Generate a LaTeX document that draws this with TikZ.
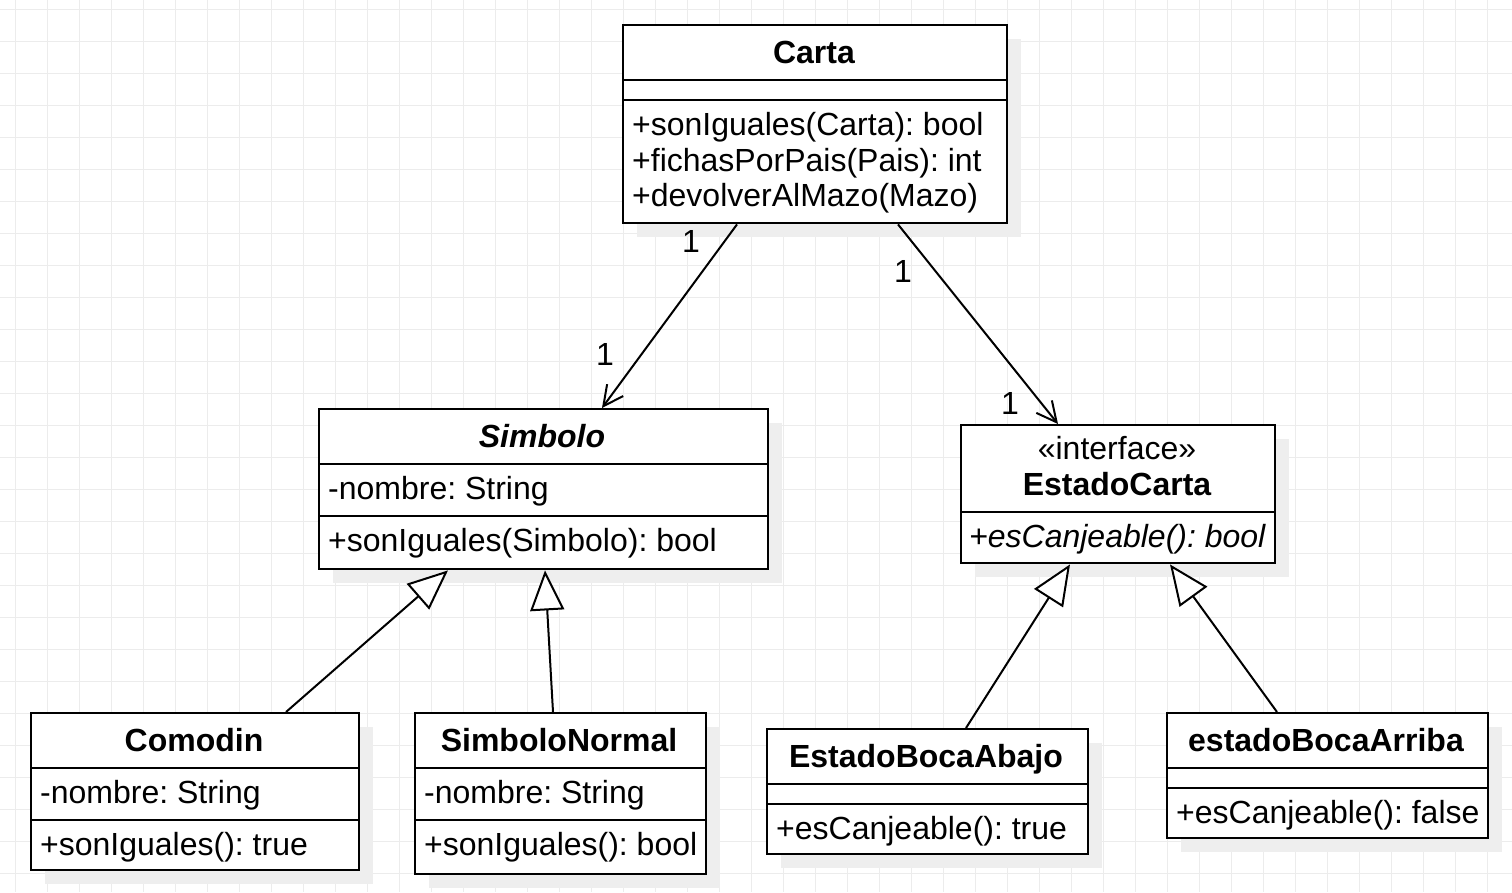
\documentclass[tikz,border=0pt]{standalone}
\usepackage{fontspec}
\setmainfont{Liberation Sans}
\usetikzlibrary{arrows.meta,shadows,calc}
\definecolor{gridc}{RGB}{236,236,236}
\definecolor{shadowc}{RGB}{238,238,238}
\frenchspacing
\tikzset{
  cls/.style={draw, line width=2.4pt, fill=white, anchor=north west, inner sep=0pt,
    general shadow={fill=shadowc, shadow xshift=14pt, shadow yshift=-14pt}},
  sep/.style={line width=2.4pt},
  txt/.style={inner sep=0pt, font=\fontsize{32}{38}\selectfont, text height=27pt, text depth=3pt},
  mem/.style={txt, anchor=west},
  ttl/.style={txt, font=\fontsize{32}{38}\selectfont\bfseries},
  mult/.style={txt},
  assoc/.style={line width=2pt, -{Straight Barb[length=20pt,width=20pt]}},
  gen/.style={line width=2pt, -{Triangle[length=40pt,width=34pt,fill=white]}},
}
\begin{document}
\begin{tikzpicture}[x=1pt,y=-1pt]
\useasboundingbox (0,0) rectangle (1512,892);
\fill[white] (0,0) rectangle (1512,892);
\foreach \x in {15,47,...,1511} \draw[gridc, line width=1pt] (\x,0) -- (\x,892);
\foreach \y in {9,41,...,891} \draw[gridc, line width=1pt] (0,\y) -- (1512,\y);

% Carta
\node[cls, minimum width=384pt, minimum height=198pt] (carta) at (622,24) {};
\draw[sep] ([yshift=-56pt]carta.north west) -- ([yshift=-56pt]carta.north east);
\draw[sep] ([yshift=-76pt]carta.north west) -- ([yshift=-76pt]carta.north east);
\node[ttl] (cartaT) at (814,51) {Carta};
\node[mem] (cartaM1) at (632,123) {+sonIguales(Carta): bool};
\node[mem] (cartaM2) at (632,159) {+fichasPorPais(Pais): int};
\node[mem] (cartaM3) at (632,194) {+devolverAlMazo(Mazo)};

% Simbolo
\node[cls, minimum width=449pt, minimum height=160pt] (simbolo) at (318,408) {};
\draw[sep] ([yshift=-56pt]simbolo.north west) -- ([yshift=-56pt]simbolo.north east);
\draw[sep] ([yshift=-108pt]simbolo.north west) -- ([yshift=-108pt]simbolo.north east);
\node[ttl, font=\fontsize{32}{38}\selectfont\bfseries\itshape] (simboloT) at (542,435) {Simbolo};
\node[mem] (simboloA) at (328,487) {-nombre: String};
\node[mem] (simboloM) at (328,539) {+sonIguales(Simbolo): bool};

% EstadoCarta
\node[cls, minimum width=314pt, minimum height=138pt] (estado) at (960,424) {};
\draw[sep] ([yshift=-88pt]estado.north west) -- ([yshift=-88pt]estado.north east);
\node[txt] (estadoS) at (1117,447) {«interface»};
\node[ttl] (estadoT) at (1117,483) {EstadoCarta};
\node[mem, font=\fontsize{32}{38}\selectfont\itshape] (estadoM) at (969,535) {+esCanjeable(): bool};

% Comodin
\node[cls, minimum width=328pt, minimum height=157pt] (comodin) at (30,712) {};
\draw[sep] ([yshift=-56pt]comodin.north west) -- ([yshift=-56pt]comodin.north east);
\draw[sep] ([yshift=-108pt]comodin.north west) -- ([yshift=-108pt]comodin.north east);
\node[ttl] (comodinT) at (194,739) {Comodin};
\node[mem] (comodinA) at (40,791) {-nombre: String};
\node[mem] (comodinM) at (40,843) {+sonIguales(): true};

% SimboloNormal
\node[cls, minimum width=291pt, minimum height=161pt] (normal) at (414,712) {};
\draw[sep] ([yshift=-56pt]normal.north west) -- ([yshift=-56pt]normal.north east);
\draw[sep] ([yshift=-108pt]normal.north west) -- ([yshift=-108pt]normal.north east);
\node[ttl] (normalT) at (559,739) {SimboloNormal};
\node[mem] (normalA) at (424,791) {-nombre: String};
\node[mem] (normalM) at (424,843) {+sonIguales(): bool};

% EstadoBocaAbajo
\node[cls, minimum width=321pt, minimum height=125pt] (abajo) at (766,728) {};
\draw[sep] ([yshift=-56pt]abajo.north west) -- ([yshift=-56pt]abajo.north east);
\draw[sep] ([yshift=-76pt]abajo.north west) -- ([yshift=-76pt]abajo.north east);
\node[ttl] (abajoT) at (926,755) {EstadoBocaAbajo};
\node[mem] (abajoM) at (776,827) {+esCanjeable(): true};

% estadoBocaArriba
\node[cls, minimum width=321pt, minimum height=125pt] (arriba) at (1166,712) {};
\draw[sep] ([yshift=-56pt]arriba.north west) -- ([yshift=-56pt]arriba.north east);
\draw[sep] ([yshift=-76pt]arriba.north west) -- ([yshift=-76pt]arriba.north east);
\node[ttl] (arribaT) at (1326,739) {estadoBocaArriba};
\node[mem] (arribaM) at (1176,811) {+esCanjeable(): false};

% associations
\draw[assoc] ([xshift=115pt]carta.south west) -- ([xshift=284pt]simbolo.north west);
\draw[assoc] ([xshift=276pt]carta.south west) -- ([xshift=98pt]estado.north west);
\node[mult] (m1) at (691,240) {1};
\node[mult] (m2) at (605,353) {1};
\node[mult] (m3) at (903,270) {1};
\node[mult] (m4) at (1010,402) {1};

% generalizations
\draw[gen] ([xshift=256pt]comodin.north west) -- ([xshift=130pt]simbolo.south west);
\draw[gen] ([xshift=139pt]normal.north west) -- ([xshift=227pt]simbolo.south west);
\draw[gen] ([xshift=200pt]abajo.north west) -- ([xshift=110pt]estado.south west);
\draw[gen] ([xshift=111pt]arriba.north west) -- ([xshift=210pt]estado.south west);
\end{tikzpicture}
\end{document}
